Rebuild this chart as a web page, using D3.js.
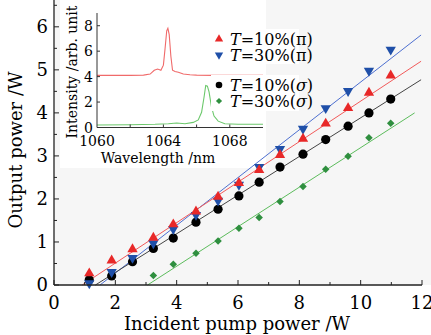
<!DOCTYPE html>
<html><head><meta charset="utf-8">
<script src="https://cdn.jsdelivr.net/npm/d3@7"></script>
<style>
html,body{margin:0;padding:0;background:#fff;}
svg{display:block;font-family:"DejaVu Serif",serif;}
</style></head>
<body><svg id="c" width="431" height="335"></svg>
<script>
// ---------- data ----------
const pumpX = [1.15,1.88,2.56,3.24,3.89,4.63,5.35,6.03,6.69,7.37,8.12,8.86,9.59,10.27,10.98];
const red10pi   = [0.27,0.57,0.83,1.10,1.41,1.71,2.05,2.37,2.67,3.02,3.40,3.75,4.11,4.47,4.87];
const blue30pi  = [0.04,0.30,0.63,0.97,1.30,1.63,1.96,2.33,2.74,3.16,3.63,4.11,4.51,4.98,5.47];
const black10s  = [0.12,0.21,0.54,0.85,1.09,1.46,1.76,2.07,2.39,2.74,3.04,3.38,3.69,4.00,4.32];
const greenX    = [3.24,3.89,4.63,5.35,6.03,6.69,7.37,8.12,8.86,9.59,10.27,10.98];
const green30s  = [0.22,0.48,0.74,1.02,1.32,1.57,1.94,2.29,2.69,2.99,3.42,3.76];
// fitted lines (read endpoints)
const fitRed   = [[0.92,0],[11.97,5.20]];
const fitBlue  = [[1.50,0],[11.97,5.81]];
const fitBlack = [[1.35,0],[11.97,4.77]];
const fitGreen = [[3.05,0],[11.76,4.00]];
const xTicks = [0,2,4,6,8,10,12];
const yTicks = [0,1,2,3,4,5,6];
const legendLabels = [["10","π"],["30","π"],["10","σ"],["30","σ"]];
// inset spectra
const specRedWl  = [1060,1061,1062,1062.8,1063.2,1063.45,1063.65,1063.85,1064.0,1064.1,1064.2,1064.27,1064.35,1064.45,1064.55,1064.7,1064.9,1065.2,1065.6,1066,1067,1068,1069,1070];
const specRedI   = [4.1,4.1,4.1,4.12,4.2,4.5,4.6,4.5,4.9,6.2,7.6,7.8,7.3,5.6,4.5,4.4,4.35,4.2,4.15,4.12,4.1,4.1,4.1,4.1];
const specGrnWl  = [1060,1062,1063.5,1064.3,1064.8,1065.3,1065.8,1066.1,1066.3,1066.45,1066.55,1066.65,1066.75,1066.9,1067.05,1067.3,1067.7,1068.5,1070];
const specGrnI   = [0.2,0.22,0.25,0.3,0.35,0.3,0.4,0.6,1.2,2.4,3.3,3.25,2.8,1.6,0.9,0.5,0.3,0.25,0.25];
const insetXTicks = [1060,1064,1068];
const insetYTicks = [0,2,4,6,8];

// ---------- drawing ----------
const svg = d3.select("#c");
const x = d3.scaleLinear().domain([0,12]).range([54,422]);
const y = d3.scaleLinear().domain([0,6.6]).range([285,1]);

// plot background
svg.append("rect").attr("x",54).attr("y",0).attr("width",377).attr("height",285).attr("fill","#f6f6f6");

// inset background
svg.append("rect").attr("x",60).attr("y",0).attr("width",206).attr("height",168).attr("fill","#fff");

// fit lines
const line = d3.line().x(d=>x(d[0])).y(d=>y(d[1]));
const fits = [[fitBlue,"#4d6fd0"],[fitRed,"#f25a5a"],[fitBlack,"#444"],[fitGreen,"#5cbc5c"]];
fits.forEach(([f,c])=>svg.append("path").attr("d",line(f)).attr("fill","none").attr("stroke",c).attr("stroke-width",1));

// markers
const triUp = d3.symbol().type(d3.symbolTriangle).size(46);
function drawSeries(xs, ys, kind, color){
  const g = svg.append("g");
  xs.forEach((xv,i)=>{
    const px=x(xv), py=y(ys[i]);
    if(kind==="up") g.append("path").attr("d",triUp()).attr("transform",`translate(${px},${py})`).attr("fill",color);
    else if(kind==="down") g.append("path").attr("d",triUp()).attr("transform",`translate(${px},${py}) rotate(180)`).attr("fill",color);
    else if(kind==="circle") g.append("circle").attr("cx",px).attr("cy",py).attr("r",4.6).attr("fill",color);
    else g.append("path").attr("d",d3.symbol().type(d3.symbolDiamond2).size(36)()).attr("transform",`translate(${px},${py})`).attr("fill",color);
  });
}
drawSeries(pumpX, black10s, "circle", "#000");
drawSeries(pumpX, blue30pi, "down", "#1f4fa8");
drawSeries(pumpX, red10pi, "up", "#e82828");
drawSeries(greenX, green30s, "diamond", "#2f8f3f");

// main axes
const ax = svg.append("g").attr("stroke","#222").attr("fill","none");
ax.append("line").attr("x1",x(0)).attr("x2",x(12)).attr("y1",285).attr("y2",285).attr("stroke-width",1.3);
ax.append("line").attr("x1",x(0)).attr("x2",x(0)).attr("y1",285).attr("y2",0).attr("stroke-width",1.3);
d3.range(0,12.01,1).forEach(v=>{
  const L = (v%2===0)?5:3;
  ax.append("line").attr("x1",x(v)).attr("x2",x(v)).attr("y1",285).attr("y2",285-L);
});
d3.range(0,6.51,0.5).forEach(v=>{
  const L = (Math.abs(v-Math.round(v))<1e-6)?5:3;
  ax.append("line").attr("x1",x(0)).attr("x2",x(0)+L).attr("y1",y(v)).attr("y2",y(v));
});
svg.append("g").selectAll("text").data(xTicks).join("text")
  .attr("x",d=>x(d)).attr("y",309).attr("text-anchor","middle").attr("font-size",18).text(d=>d);
svg.append("g").selectAll("text").data(yTicks).join("text")
  .attr("x",48).attr("y",d=>y(d)+6).attr("text-anchor","end").attr("font-size",18).text(d=>d);
svg.append("text").attr("x",237).attr("y",330).attr("text-anchor","middle").attr("font-size",18).text("Incident pump power /W");
svg.append("text").attr("transform","translate(22,150) rotate(-90)").attr("text-anchor","middle").attr("font-size",18).text("Output power /W");

// inset
const ix = d3.scaleLinear().domain([1060,1070]).range([97,263]);
const iy = d3.scaleLinear().domain([0,9]).range([127.5,13]);
const sl = d3.line().x(d=>ix(d[0])).y(d=>iy(d[1]));
svg.append("path").attr("d",sl(specRedWl.map((w,i)=>[w,specRedI[i]]))).attr("fill","none").attr("stroke","#f06a6a").attr("stroke-width",1.1);
svg.append("path").attr("d",sl(specGrnWl.map((w,i)=>[w,specGrnI[i]]))).attr("fill","none").attr("stroke","#6cc86c").attr("stroke-width",1.1);
const ia = svg.append("g").attr("stroke","#333").attr("fill","none");
ia.append("line").attr("x1",ix(1060)).attr("x2",ix(1070)).attr("y1",iy(0)).attr("y2",iy(0));
ia.append("line").attr("x1",ix(1060)).attr("x2",ix(1060)).attr("y1",iy(0)).attr("y2",iy(9));
[1062,1064,1066,1068].forEach(v=>ia.append("line").attr("x1",ix(v)).attr("x2",ix(v)).attr("y1",iy(0)).attr("y2",iy(0)-3));
[2,4,6,8].forEach(v=>ia.append("line").attr("x1",ix(1060)).attr("x2",ix(1060)+3).attr("y1",iy(v)).attr("y2",iy(v)));
svg.append("g").selectAll("text").data(insetXTicks).join("text")
  .attr("x",d=>ix(d)).attr("y",146).attr("text-anchor","middle").attr("font-size",14).text(d=>d);
svg.append("g").selectAll("text").data(insetYTicks).join("text")
  .attr("x",93).attr("y",d=>iy(d)+5).attr("text-anchor","end").attr("font-size",14).text(d=>d);
svg.append("text").attr("x",158).attr("y",163).attr("text-anchor","middle").attr("font-size",14).text("Wavelength /nm");
svg.append("text").attr("transform","translate(77,72) rotate(-90)").attr("text-anchor","middle").attr("font-size",14).text("Intensity /arb. unit");

// legend
svg.append("rect").attr("x",211).attr("y",29).attr("width",88).attr("height",35).attr("fill","#fff");
svg.append("rect").attr("x",211).attr("y",75).attr("width",88).attr("height",36).attr("fill","#fff");
const legRows = [39,55,85,101];
const legKinds = [["up","#e82828"],["down","#1f4fa8"],["circle","#000"],["diamond","#2f8f3f"]];
legKinds.forEach(([k,c],i)=>{
  const px=219, py=legRows[i];
  if(k==="up") svg.append("path").attr("d",d3.symbol().type(d3.symbolTriangle).size(30)()).attr("transform",`translate(${px},${py})`).attr("fill",c);
  else if(k==="down") svg.append("path").attr("d",d3.symbol().type(d3.symbolTriangle).size(30)()).attr("transform",`translate(${px},${py}) rotate(180)`).attr("fill",c);
  else if(k==="circle") svg.append("circle").attr("cx",px).attr("cy",py).attr("r",3.3).attr("fill",c);
  else svg.append("path").attr("d",d3.symbol().type(d3.symbolDiamond2).size(24)()).attr("transform",`translate(${px},${py})`).attr("fill",c);
  const t = svg.append("text").attr("x",230).attr("y",py+5.5).attr("font-size",16);
  t.append("tspan").attr("font-style","italic").text("T");
  t.append("tspan").text("="+legendLabels[i][0]+"%(");
  t.append("tspan").attr("font-style",legendLabels[i][1]==="σ"?"italic":"normal").text(legendLabels[i][1]);
  t.append("tspan").text(")");
});
</script></body></html>
